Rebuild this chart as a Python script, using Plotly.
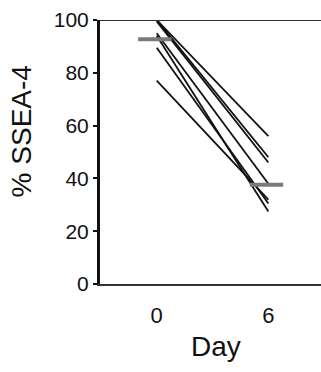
import plotly.graph_objects as go

# ---- data ----
days = [0, 6]
day0_values = [100, 100, 99.5, 95, 94, 89.5, 77]
day6_values = [56, 48, 46, 38, 27.5, 30.5, 32]
mean_days = [0, 6]
mean_values = [92.7, 37.6]
y_ticks = [0, 20, 40, 60, 80, 100]
x_ticks = [0, 6]
x_tick_labels = ["0", "6"]

FONT = "Liberation Sans, Arial, Helvetica, sans-serif"
BAR_LEFT, BAR_RIGHT = 1.0, 0.8  # mean bar extent (days) around each point

fig = go.Figure()

for v0, v6 in zip(day0_values, day6_values):
    fig.add_trace(go.Scatter(
        x=days, y=[v0, v6], mode="lines",
        line=dict(color="#111111", width=1.8),
        showlegend=False, hoverinfo="skip", cliponaxis=False,
    ))

for d, m in zip(mean_days, mean_values):
    fig.add_trace(go.Scatter(
        x=[d - BAR_LEFT, d + BAR_RIGHT], y=[m, m], mode="lines",
        line=dict(color="#7a7a7a", width=4),
        showlegend=False, hoverinfo="skip", cliponaxis=False,
    ))

fig.update_layout(
    width=321, height=372,
    margin=dict(l=100, r=0, t=20, b=88),
    paper_bgcolor="white", plot_bgcolor="white",
    font=dict(family=FONT, color="#111111"),
    xaxis=dict(
        range=[-3.05, 8.83], tickvals=x_ticks, ticktext=x_tick_labels,
        showgrid=False, zeroline=False, showline=True,
        linecolor="#333333", linewidth=2, ticks="",
        ticklabelstandoff=11, tickfont=dict(size=22, family=FONT),
    ),
    yaxis=dict(
        range=[0, 100], tickvals=y_ticks,
        showgrid=False, zeroline=False, showline=True,
        linecolor="#111111", linewidth=3,
        ticks="outside", ticklen=4, tickwidth=1.5, tickcolor="#111111",
        tickfont=dict(size=21, family=FONT),
    ),
    shapes=[dict(type="line", xref="paper", yref="y", x0=0, x1=1, y0=100, y1=100,
                 line=dict(color="#333333", width=2))],
    annotations=[
        dict(text="Day", xref="paper", yref="paper", x=(216 - 100) / 221, y=-(346.7 - 284) / 264,
             showarrow=False, font=dict(size=28, family=FONT), xanchor="center", yanchor="middle"),
        dict(text="% SSEA-4", xref="paper", yref="paper", x=(21.7 - 100) / 221, y=(284 - 131.7) / 264,
             textangle=-90, showarrow=False, font=dict(size=28, family=FONT),
             xanchor="center", yanchor="middle"),
    ],
)

fig.write_html("out.html", config={"displayModeBar": False},
               post_script="document.body.style.margin='0';document.body.style.overflow='hidden';")
